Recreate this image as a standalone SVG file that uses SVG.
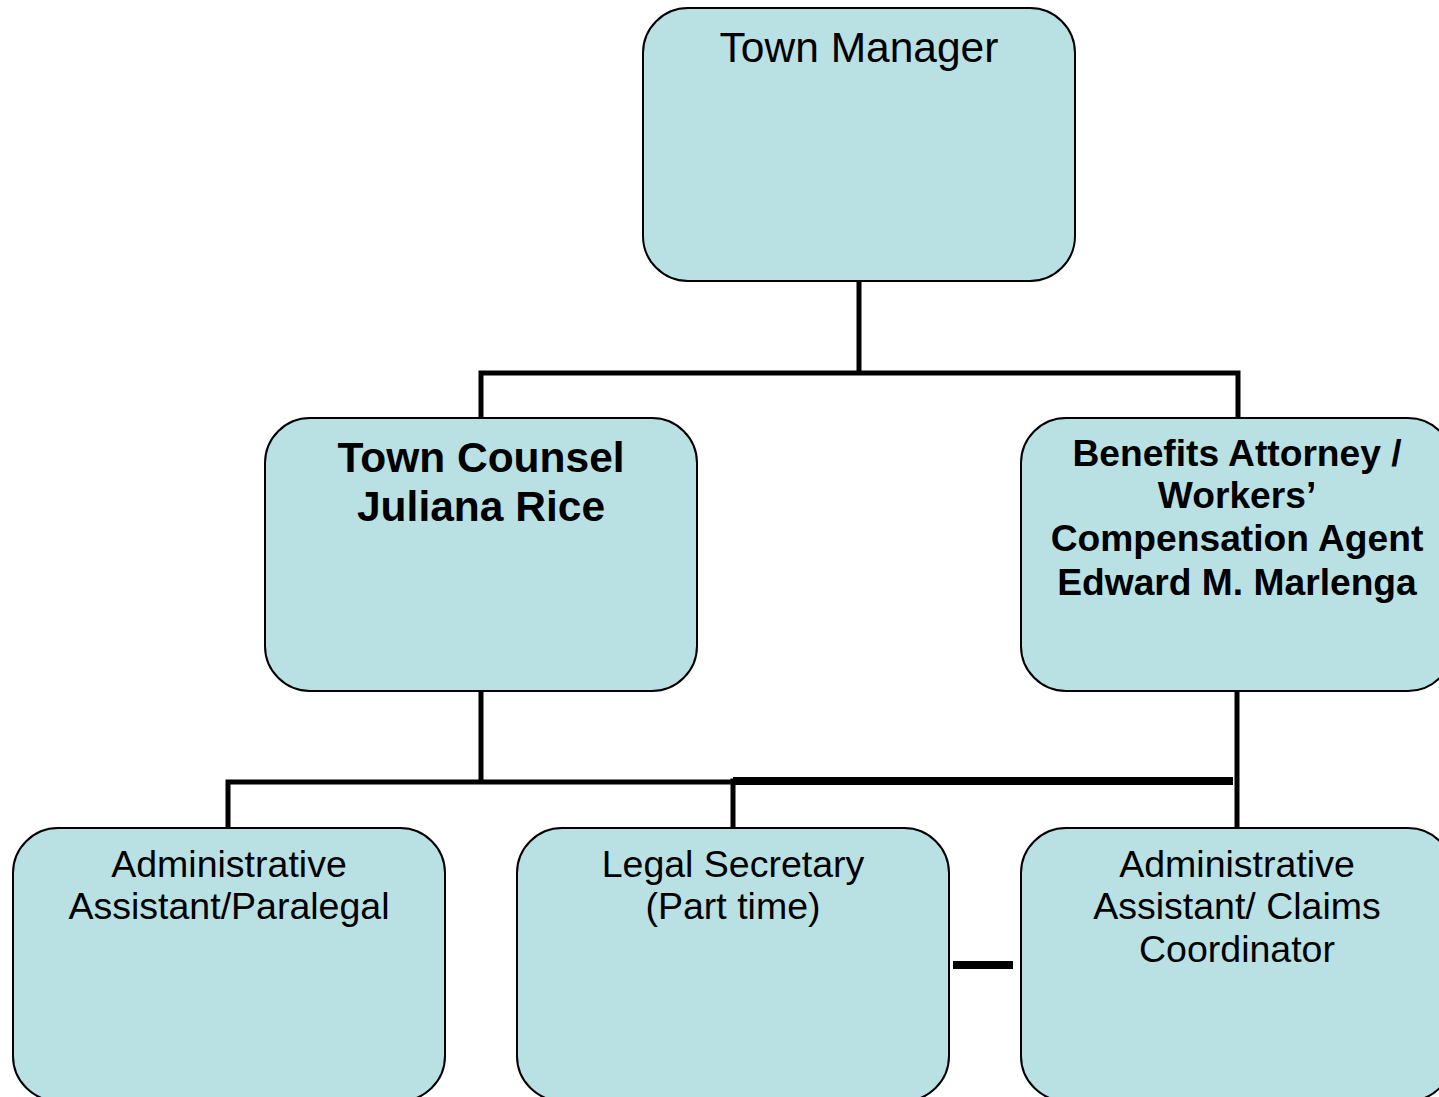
<svg xmlns="http://www.w3.org/2000/svg" width="1439" height="1097" viewBox="0 0 1439 1097">
  <style>
    .box { fill: #b9e0e3; stroke: #000; stroke-width: 2; }
    .lbl { font-family: "Liberation Sans", Arial, sans-serif; fill: #000; text-anchor: middle; }
    .reg { font-size: 37.5px; }
    .big { font-size: 42.5px; }
    .mid { font-size: 37.2px; font-weight: bold; }
    .bold { font-weight: bold; }
    .wire { stroke: #000; stroke-width: 5; fill: none; stroke-linecap: square; }
    .heavy { stroke: #000; stroke-width: 8; fill: none; }
  </style>
  <rect width="1439" height="1097" fill="#fff"/>

  <!-- reporting lines -->
  <g id="connectors">
    <path class="wire" d="M859 281 V373 M481 373 H1238 M481 373 V418 M1238 373 V418"/>
    <path class="wire" d="M481 691 V782 M228 782 H733 M228 782 V828"/>
    <path class="wire" d="M1237 691 V828"/>
    <path class="heavy" d="M733 781 H1233"/>
    <path class="wire" d="M733 781 V828"/>
    <path class="heavy" d="M953 965 H1013"/>
  </g>

  <g id="town-manager">
    <rect class="box" x="643" y="8" width="432" height="273" rx="45"/>
    <text class="lbl big" x="859" y="62">Town Manager</text>
  </g>

  <g id="town-counsel">
    <rect class="box" x="265" y="418" width="432" height="273" rx="45"/>
    <text class="lbl big bold" x="481" y="472">Town Counsel</text>
    <text class="lbl big bold" x="481" y="521">Juliana Rice</text>
  </g>

  <g id="benefits-attorney">
    <rect class="box" x="1021" y="418" width="432" height="273" rx="45"/>
    <text class="lbl mid" x="1237" y="466">Benefits Attorney /</text>
    <text class="lbl mid" x="1237" y="508">Workers’</text>
    <text class="lbl mid" x="1237" y="551">Compensation Agent</text>
    <text class="lbl mid" x="1237" y="595">Edward M. Marlenga</text>
  </g>

  <g id="admin-paralegal">
    <rect class="box" x="13" y="828" width="432" height="273" rx="45"/>
    <text class="lbl reg" x="229" y="877">Administrative</text>
    <text class="lbl reg" x="229" y="919">Assistant/Paralegal</text>
  </g>

  <g id="legal-secretary">
    <rect class="box" x="517" y="828" width="432" height="273" rx="45"/>
    <text class="lbl reg" x="733" y="877">Legal Secretary</text>
    <text class="lbl reg" x="733" y="919">(Part time)</text>
  </g>

  <g id="admin-claims">
    <rect class="box" x="1021" y="828" width="432" height="273" rx="45"/>
    <text class="lbl reg" x="1237" y="877">Administrative</text>
    <text class="lbl reg" x="1237" y="919">Assistant/ Claims</text>
    <text class="lbl reg" x="1237" y="962">Coordinator</text>
  </g>
</svg>
